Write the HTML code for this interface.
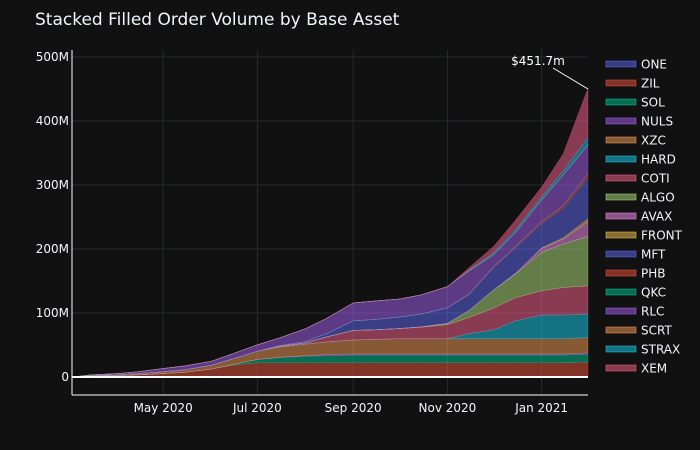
<!DOCTYPE html>
<html><head><meta charset="utf-8"><style>
body{margin:0;background:#111111;}
svg{display:block;font-family:"DejaVu Sans","Liberation Sans",sans-serif;}
</style></head><body>
<svg id="chart" width="700" height="450">
<rect width="700" height="450" fill="#111111"/>
<text x="35" y="25" fill="#f2f5fa" font-size="17">Stacked Filled Order Volume by Base Asset</text>
<g id="grid"></g>
<g id="areas"></g>
<g id="axes"></g>
<g id="legend"></g>
<line x1="553" y1="68" x2="588" y2="89" stroke="#ffffff" stroke-width="1"/>
<text x="538" y="65" fill="#ffffff" font-size="12" text-anchor="middle">$451.7m</text>
</svg>
<script>
const dates=["2020-03-03","2020-03-15","2020-04-01","2020-04-15","2020-05-01","2020-05-15","2020-06-01","2020-06-15","2020-07-01","2020-07-15","2020-08-01","2020-08-15","2020-09-01","2020-09-15","2020-10-01","2020-10-15","2020-11-01","2020-11-15","2020-12-01","2020-12-15","2021-01-01","2021-01-15","2021-01-31"];
const seriesNames=["ONE","ZIL","SOL","NULS","XZC","HARD","COTI","ALGO","AVAX","FRONT","MFT","PHB","QKC","RLC","SCRT","STRAX","XEM"];
const ONE=[0,0.3,0.3,0.3,0.3,0.3,0.3,0.3,0.3,0.3,0.3,0.3,0.3,0.3,0.3,0.3,0.3,0.3,0.3,0.3,0.3,0.3,0.5];
const ZIL=[0,1,2,3,5,7,12,18,22,22,22,22,22,22,22,22,22,22,22,22,22,22,23];
const SOL=[0,0,0,0,0,0,0,1,5,8,10,11,12,12,12,12,12,12,12,12,12,12,12];
const NULS=[0,0,0,0,0,0,0,0,0,0.5,1,1.5,1.5,1.5,1.5,1.5,1.5,1.5,1.5,1.5,1.5,1.5,2];
const XZC=[0,1,1,2,3,4,6,9,13,16,18,20,22,23,24,24,24,24,24,24,24,24,24];
const HARD=[0,0,0,0,0,0,0,0,0,0,0,0,0,0,0,0,0,8,14,28,37,37,37];
const COTI=[0,0,0,0,0,0,0,0,0,1,2,8,15,15,16,18,22,25,34,36,38,43,44];
const ALGO=[0,0,0,0,0,0,0,0,0,0,0,0,0,0,0,0.5,2,11,28,37,60,68,77];
const AVAX=[0,0,0,0,0,0,0,0,0,0,0,0,0,0,0,0,0,0,0.5,1,6,8,23];
const FRONT=[0,0,0,0,0,0,0,0,0,0,0,0,0,0,0,0,0,0,0,0,1,2,5];
const MFT=[0,0,0,0,0,0,0,0,0,1,2,5,15,16,18,20,24,25,35,40,38,46,64];
const PHB=[0,0,0,0,0,0,0,0,0,0,0,0,0,0,0,0,0.5,1,1,2,3,4,6];
const QKC=[0,0,0,0,0,0,0,0,0,0,0,0,0,0,0,0,0,0,0,0,0,0,0.3];
const RLC=[0,1,2,3,5,6,6,8,10,12,20,24,28,29,28,30,33,36,19,22,34,48,45];
const SCRT=[0,0,0,0,0,0,0,0,0,0,0,0,0,0,0,0,0,0,0,0,0,0,0.3];
const STRAX=[0,0,0,0,0,0,0,0,0,0,0,0,0,0,0,0,0,1,3,4,5,6,11];
const XEM=[0,0,0,0,0,0,0,0,0,0,0,0,0,0,0,0,0,4,10,15,15,27,77];
const seriesValues=[ONE,ZIL,SOL,NULS,XZC,HARD,COTI,ALGO,AVAX,FRONT,MFT,PHB,QKC,RLC,SCRT,STRAX,XEM];
const yTicks=[0,100,200,300,400,500];
const yTickLabels=["0","100M","200M","300M","400M","500M"];
const xTicks=["2020-05-01","2020-07-01","2020-09-01","2020-11-01","2021-01-01"];
const xTickLabels=["May 2020","Jul 2020","Sep 2020","Nov 2020","Jan 2021"];

const palette=["#636efa","#EF553B","#00cc96","#ab63fa","#FFA15A","#19d3f3","#FF6692","#B6E880","#FF97FF","#FECB52"];
const NS="http://www.w3.org/2000/svg";
const t0=Date.parse("2020-03-03"),t1=Date.parse("2021-01-31");
const X0=72,X1=588,Y0=377,PXM=0.64;
function xs(d){return X0+(Date.parse(d)-t0)/(t1-t0)*(X1-X0);}
function ys(v){return Y0-v*PXM;}
function mk(tag,attrs,parent){const e=document.createElementNS(NS,tag);for(const k in attrs)e.setAttribute(k,attrs[k]);parent.appendChild(e);return e;}
const grid=document.getElementById('grid'),areas=document.getElementById('areas'),axes=document.getElementById('axes'),legend=document.getElementById('legend');
yTicks.forEach((v,i)=>{
  if(v>0){const g=mk('line',{x1:X0,x2:X1,y1:ys(v),y2:ys(v),stroke:'#232b36','stroke-width':1},grid);
  
  }
  const t=mk('text',{x:69,y:ys(v)+4,fill:'#f2f5fa','font-size':12,'text-anchor':'end'},axes);
  t.textContent=yTickLabels[i];
  
  
});
xTicks.forEach((d,i)=>{
  const g=mk('line',{x1:xs(d),x2:xs(d),y1:50,y2:395,stroke:'#232b36','stroke-width':1},grid);
  
  
  const t=mk('text',{x:xs(d),y:412,fill:'#f2f5fa','font-size':12,'text-anchor':'middle'},axes);
  t.textContent=xTickLabels[i];
  
  
});
const cum=dates.map(()=>0);
seriesValues.forEach((vals,si)=>{
  const lower=cum.slice();
  vals.forEach((v,j)=>{cum[j]+=v;});
  let d='M'+dates.map((dt,j)=>xs(dt).toFixed(1)+','+ys(cum[j]).toFixed(1)).join('L');
  for(let j=dates.length-1;j>=0;j--)d+='L'+xs(dates[j]).toFixed(1)+','+ys(lower[j]).toFixed(1);
  d+='Z';
  const c=palette[si%10];
  const p=mk('path',{d:d,fill:c,'fill-opacity':0.5,stroke:c,'stroke-opacity':0.5,'stroke-width':0.5},areas);
  
  
  const ly=64+si*19;
  const sw=mk('rect',{x:606,y:ly-3,width:30,height:6,fill:c,'fill-opacity':0.5,stroke:c,'stroke-opacity':0.5},legend);
  
  
  const lt=mk('text',{x:641,y:ly+4.5,fill:'#f2f5fa','font-size':12},legend);
  lt.textContent=seriesNames[si];
  
  
});
const zl=mk('line',{x1:X0,x2:X1,y1:Y0,y2:Y0,stroke:'#ffffff','stroke-width':2},axes);


const ya=mk('line',{x1:X0,x2:X0,y1:50,y2:395,stroke:'#ffffff','stroke-width':1},axes);


const xa=mk('line',{x1:X0,x2:X1,y1:395,y2:395,stroke:'#ffffff','stroke-width':1},axes);


</script>
</body></html>
